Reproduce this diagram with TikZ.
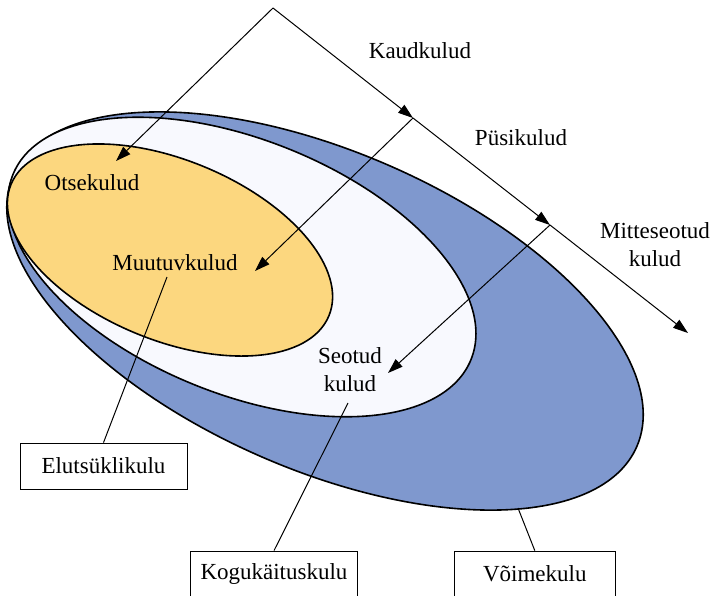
\documentclass[tikz,border=0pt]{standalone}
\usepackage{fontspec}
\setmainfont{Liberation Serif}
\usetikzlibrary{arrows.meta, positioning}

\definecolor{capblue}{HTML}{7F98CE}
\definecolor{lifewhite}{HTML}{F8F9FE}
\definecolor{directyellow}{HTML}{FCD77F}

\begin{document}
\begin{tikzpicture}[
    x=1pt, y=-1pt,
    font=\fontsize{23}{28}\selectfont,
    zone/.style={draw=black, line width=1.6pt},
    costlabel/.style={align=center, inner sep=1pt},
    costbox/.style={rectangle, draw=black, line width=0.8pt, minimum width=167pt, minimum height=46pt, inner sep=2pt},
    arrow/.style={-{Triangle[length=15pt, width=10pt]}, line width=1pt},
    leader/.style={line width=1pt}
]
\useasboundingbox (0,0) rectangle (714,595);

% Ellipses
\draw[zone, fill=capblue] (325,311) circle [x radius=340pt, y radius=159pt, rotate=-23.5];
\draw[zone, fill=lifewhite] (242,267) circle [x radius=247pt, y radius=127pt, rotate=-22];
\draw[zone, fill=directyellow] (170,250) circle [x radius=172pt, y radius=90pt, rotate=-22.5];

% Labels
\node[costlabel] (kaud) at (420,51) {Kaudkulud};
\node[costlabel] (pusi) at (521,138) {Püsikulud};
\node[costlabel] (mitte) at (655,245) {Mitteseotud\\kulud};
\node[costlabel] (otse) at (92,183) {Otsekulud};
\node[costlabel] (muutu) at (175,263) {Muutuvkulud};
\node[costlabel] (seotud) at (350,370) {Seotud\\kulud};

% Boxes
\node[costbox] (elu) at (103.5,466) {Elutsüklikulu};
\node[costbox] (kogu) at (274,574) {Kogukäituskulu};
\node[costbox, right=96pt of kogu, minimum width=161pt] (voime) {Võimekulu};

% Arrow points
\coordinate (apex) at (273,8);
\coordinate (kaudtip) at (413,118);
\coordinate (pusitip) at (550,225);
\coordinate (mitteend) at (688,333);
\coordinate (otsetip) at (116,161);
\coordinate (muututip) at (255,271);
\coordinate (seotip) at (388,373);
\coordinate (muutufoot) at (167,277);
\coordinate (seotudfoot) at (348,403);
\coordinate (voimefoot) at (518,508);

% Connectors
\draw[arrow] (apex) -- (otsetip);
\draw[arrow] (apex) -- (kaudtip);
\draw[arrow] (kaudtip) -- (pusitip);
\draw[arrow] (pusitip) -- (mitteend);
\draw[arrow] (kaudtip) -- (muututip);
\draw[arrow] (pusitip) -- (seotip);

\draw[leader] (muutufoot) -- (elu.north);
\draw[leader] (seotudfoot) -- (kogu.north);
\draw[leader] (voimefoot) -- (voime.north);

\end{tikzpicture}
\end{document}
